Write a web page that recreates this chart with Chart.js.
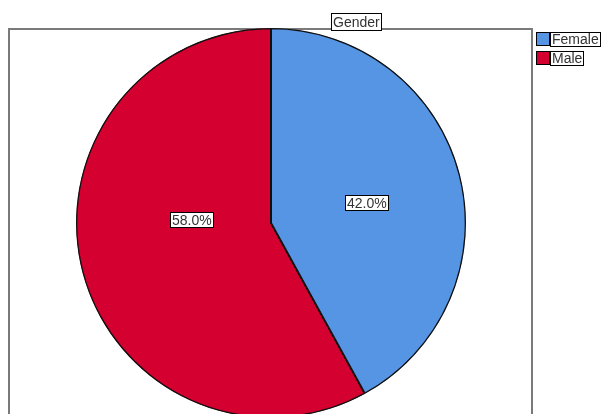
<!DOCTYPE html>
<html>
<head>
<meta charset="utf-8">
<script src="https://cdn.jsdelivr.net/npm/chart.js@4/dist/chart.umd.min.js"></script>
<style>
html,body{margin:0;padding:0;background:#fff;overflow:hidden;}
#wrap{position:relative;width:605px;height:440px;}
</style>
</head>
<body>
<div id="wrap"><canvas id="c" width="605" height="440"></canvas></div>
<script>
const categories = ["Female", "Male"];
const percentages = [42.0, 58.0];
const chartTitle = "Gender";
const sliceColors = ["#5694E4", "#D4002F"];

const FONT = '14px "Liberation Sans", Arial, sans-serif';

function boxedText(ctx, text, x, y, align, h) {
  ctx.font = FONT;
  const w = Math.round(ctx.measureText(text).width) + 3;
  let left = Math.round(align === 'left' ? x : x - w / 2);
  const top = Math.round(y - h / 2);
  ctx.fillStyle = '#fff';
  ctx.fillRect(left, top, w, h);
  ctx.strokeStyle = '#000';
  ctx.lineWidth = 1;
  ctx.strokeRect(left + 0.5, top + 0.5, w, h);
  ctx.fillStyle = '#333';
  ctx.textBaseline = 'middle';
  ctx.textAlign = 'left';
  ctx.fillText(text, left + 2, top + h / 2 + 1.5);
}

const decor = {
  id: 'decor',
  beforeDraw(chart) {
    const ctx = chart.ctx;
    ctx.save();
    ctx.strokeStyle = '#7a7a7a';
    ctx.lineWidth = 2;
    ctx.beginPath();
    ctx.moveTo(9, 460);
    ctx.lineTo(9, 29);
    ctx.lineTo(532, 29);
    ctx.lineTo(532, 460);
    ctx.stroke();
    ctx.restore();
  },
  afterDraw(chart) {
    const ctx = chart.ctx;
    ctx.save();
    boxedText(ctx, chartTitle, 356, 21, 'center', 17);
    const meta = chart.getDatasetMeta(0);
    const radFrac = [0.503, 0.41];
    const angShift = [0.037, 0.29];
    meta.data.forEach((arc, i) => {
      const p = arc.getProps(['x', 'y', 'startAngle', 'endAngle', 'outerRadius'], true);
      const mid = (p.startAngle + p.endAngle) / 2 + angShift[i];
      const r = p.outerRadius * radFrac[i];
      const lx = p.x + Math.cos(mid) * r;
      const ly = p.y + Math.sin(mid) * r;
      boxedText(ctx, percentages[i].toFixed(1) + '%', lx, ly, 'center', 15);
    });
    categories.forEach((c, i) => {
      const y = 32 + i * 19;
      ctx.fillStyle = sliceColors[i];
      ctx.fillRect(536, y, 13, 13);
      ctx.strokeStyle = '#000';
      ctx.lineWidth = 1;
      ctx.strokeRect(536.5, y + 0.5, 13, 13);
      boxedText(ctx, c, 550, y + 7, 'left', 14);
    });
    ctx.restore();
  }
};

new Chart(document.getElementById('c'), {
  type: 'pie',
  data: {
    labels: categories,
    datasets: [{
      data: percentages,
      backgroundColor: sliceColors,
      borderColor: '#111',
      borderWidth: 1,
      borderAlign: 'inner'
    }]
  },
  options: {
    responsive: false,
    animation: false,
    events: [],
    layout: { padding: { left: 76, right: 139, top: 28, bottom: 22 } },
    plugins: { legend: { display: false }, title: { display: false }, tooltip: { enabled: false } }
  },
  plugins: [decor]
});
</script>
</body>
</html>
